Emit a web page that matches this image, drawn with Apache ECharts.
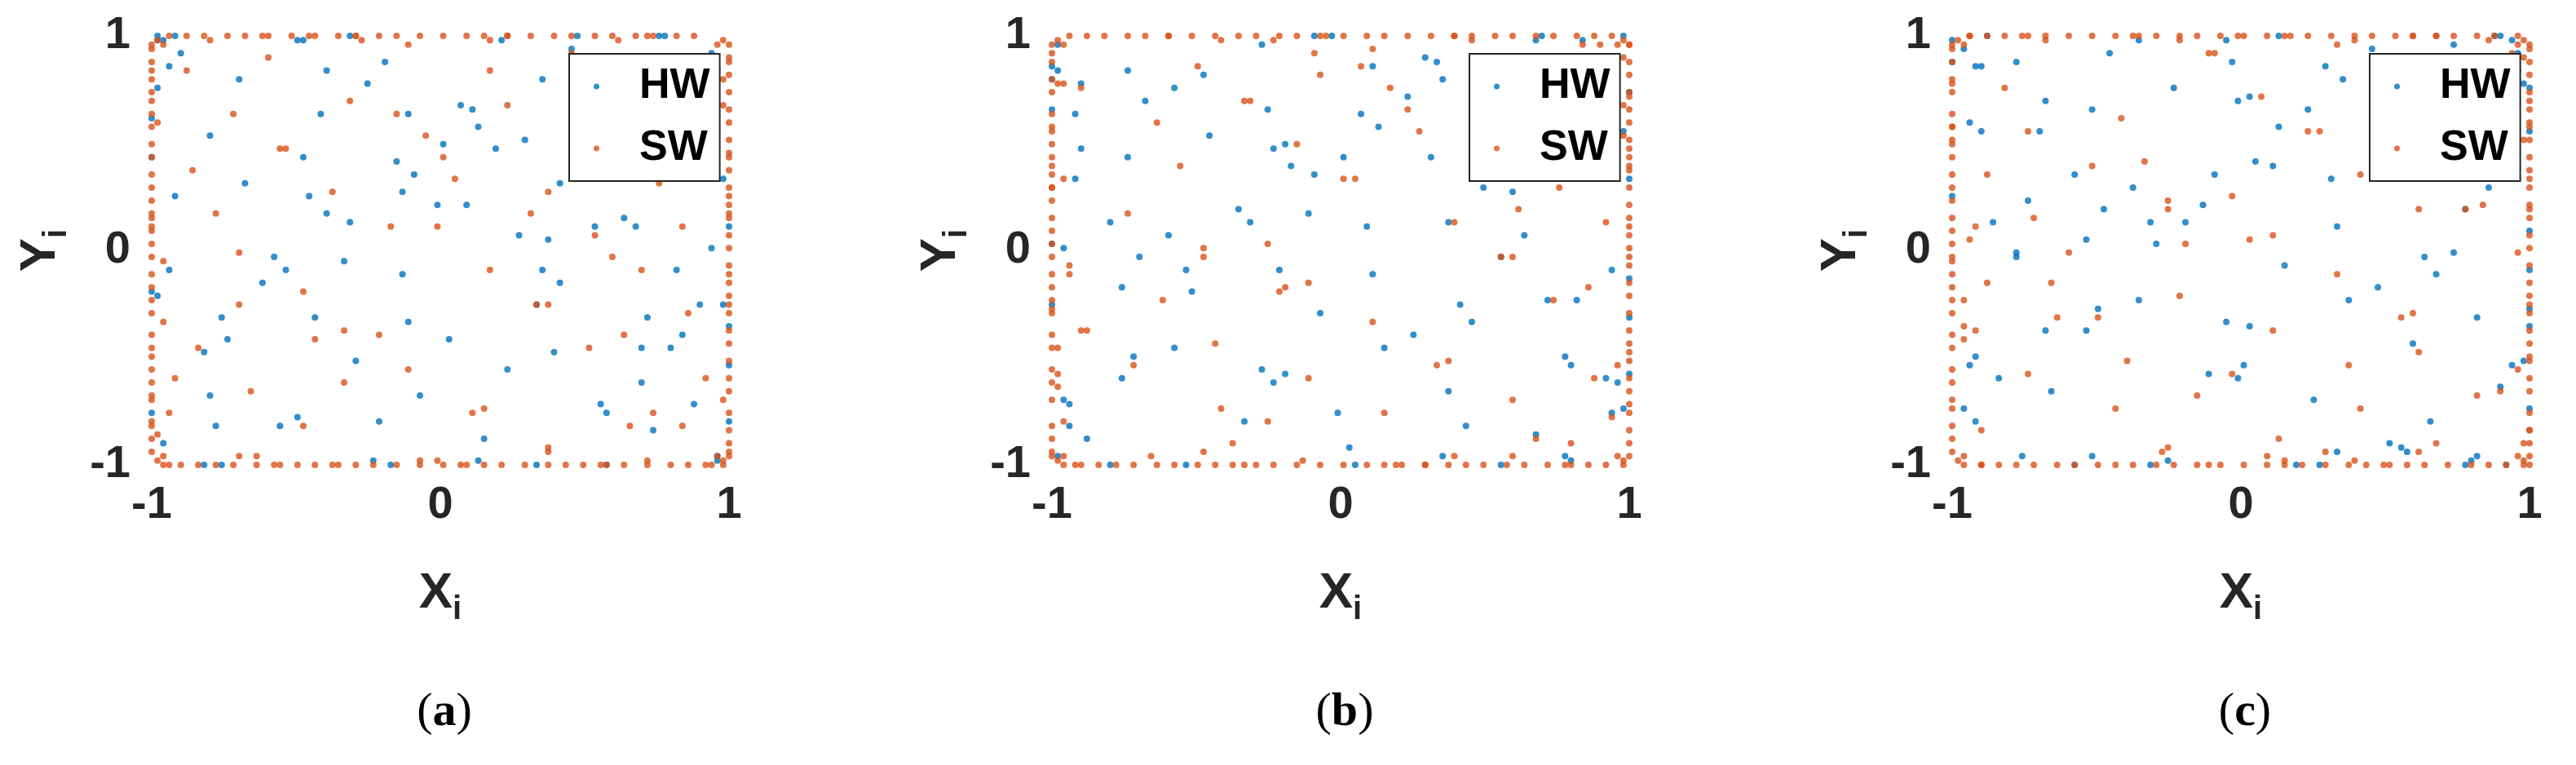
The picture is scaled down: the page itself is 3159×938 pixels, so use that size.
<!DOCTYPE html>
<html><head><meta charset="utf-8">
<script src="https://cdn.jsdelivr.net/npm/echarts@6/dist/echarts.min.js"></script>
<style>html,body{margin:0;padding:0;background:#fff}#c{width:3159px;height:938px}</style>
</head><body><div id="c"></div>
<script>
// points encoded as "xxyy" groups, 00..99 mapped to -1..1
const hwA = "0012 0345 0187 9923 9866 9701 1200 3499 5601 7800 8899 0298 2345 4567 6789 1234 5678 3456 7812 9045 1589 2671 4433 6122 8355 3910 5074 7296 2148 4960 6637 8419 1076 3058 5582 7714 9130 0595 2209 4481 6353 8927 1665 3347 5129 7791 9573 0462 2834 4616 6098 8270 1942 3524 5706 7388 9650 0139 2511 4093 6475 8157 1329 3801 5383 7065 9437 0926 2698 4270 6852 8534 1016 3788 5460 7042 9314 0080 2762 4344 6926 8608 0199 2981 4363 6745 8427 1109 3091 5973 7655 9837 0040 0071 9955 9910 9932 0198 0499 2598 7399 0900 4100 6600 8799 0205 9702 0392 9695";
const swA = "0107 0233 0058 0179 0091 9815 9944 9972 9889 9958 1098 2799 4497 6199 8098 1502 3200 4901 6803 8501 0420 2273 4155 6837 8612 1549 3331 5713 7295 9077 0768 2640 4422 6804 8386 1158 3930 5512 7894 9476 0247 2829 4601 6183 8765 1537 3319 5891 7473 9155 0827 2609 4281 6863 8445 1717 3599 5071 7653 9235 0312 2094 4776 6558 8130 1802 3484 5266 7948 9520 0691 2373 4955 6637 8209 1481 3163 5845 7527 9109 0010 0025 0055 0084 0096 9903 9937 9962 9994 0300 2200 5300 7700 9600 1999 3698 5898 8599 0016 9883";
const hwB = "0215 0466 0089 9934 9877 9612 2300 4599 6702 8901 9198 0197 3456 5678 7890 2345 6789 4567 8923 1056 2690 3782 5544 7233 9466 4021 6185 8307 3259 5071 7748 9520 2187 4169 6693 8825 1241 0606 3310 5592 7464 9038 2776 4458 6230 8802 1684 0573 3945 5727 7109 9381 2053 4635 6817 8499 1371 0250 3622 5104 7586 9268 2440 4912 6494 8176 1548 0037 3819 5381 7963 9645 2127 4899 6571 8153 1425 0191 3873 5455 7037 9719 1391 0092 4074 6856 8538 1220 0102 9986 0051 0082 9966 9921 9943 0309 0588 3697 8398 1000 5200 7700 9899 0314 9813 0481 9784";
const swB = "0118 0344 0069 0288 0002 9926 9955 9883 9790 9969 2099 3898 5596 7298 9197 2603 4301 5900 7902 9611 0531 3384 5266 7948 9723 2650 4442 6824 8306 0188 1879 3751 5533 7915 9497 2269 4041 6623 8905 0587 1358 3940 5712 7294 9876 2648 4420 6902 8584 0266 1938 3710 5392 7974 9556 2828 4690 6182 8764 0346 1423 3105 5887 7669 9241 2913 4595 6377 8059 0631 1702 3484 5066 7748 9320 2592 4274 6956 8638 0210 0121 0036 0064 0095 0077 9914 9948 9973 9985 0400 3300 6400 8800 9997 2998 4799 6999 9699 0127 9894";
const hwC = "0323 0577 0098 9945 9888 9623 3400 5699 7803 9002 9399 0296 4567 6789 8901 3456 7890 5678 9034 2167 3701 4893 6655 8344 1577 5132 7296 9418 4360 6182 8859 1631 3298 5270 7704 9936 2352 1717 4421 6603 8575 1149 3887 5569 7341 9913 2795 1684 4056 6838 8210 0492 3164 5746 7928 9500 2482 1361 4733 6215 8697 0379 3551 5023 7505 9287 2659 1148 4920 6492 8074 0756 3238 5900 7682 9264 2536 1202 4984 6566 8148 0820 2402 1193 5185 7967 8649 2331 0213 9987 0062 0093 9977 9932 9954 0410 0699 4798 9499 2100 6300 8800 9698 0425 9824 0592 9795";
const swC = "0229 0455 0078 0399 0013 9937 9966 9894 9791 9978 3199 4999 6697 8399 9298 3704 5402 6901 8003 9722 0642 4495 6377 8059 1834 3761 5553 7935 9417 1299 2980 4862 6644 8026 0508 3370 5152 7734 9016 1698 2469 4051 6823 8305 0987 3759 5531 7013 9695 1377 2049 4821 6403 8085 0667 3939 5701 7293 9875 1457 2534 4216 6998 8770 0352 3024 5606 7488 9160 1742 2813 4595 6177 8859 0431 3603 5385 7067 9749 1321 0232 0047 0075 0096 0088 9925 9959 9984 9996 0500 4400 7500 9900 9908 3998 5899 7999 9799 0238 9805";
// dense orange bands along the borders
const edgeSW = "0003 0006 0009 0015 0019 0022 0027 0030 0035 0038 0041 0044 0048 0051 0054 0057 0061 0064 0067 0071 0074 0078 0081 0086 0089 0093 0097 9902 9905 9908 9912 9917 9920 9924 9928 9931 9935 9939 9942 9946 9950 9953 9957 9960 9964 9968 9971 9975 9979 9982 9986 9990 9993 9997 0399 0699 0999 1399 1699 2099 2499 2899 3299 3599 3999 4299 4699 5099 5499 5799 6199 6599 6999 7299 7699 7999 8399 8699 9099 9399 0200 0500 0800 1100 1400 1800 2100 2500 2800 3100 3500 3800 4200 4600 5000 5400 5700 6000 6400 6800 7100 7400 7800 8100 8500 8900 9200 9500 9800 0101 0198 9801 9898 0202 0297 9702 9797";
const captions = ["(a)", "(b)", "(c)"];
const tickValues = [-1, 0, 1];

function decode(s){return s.trim().split(/\s+/).map(g=>[-1+2*(+g.slice(0,2))/99, -1+2*(+g.slice(2,4))/99]);}
const panels=[[hwA,swA],[hwB,swB],[hwC,swC]];
const lefts=[186,1290,2394], W=708;
const BLUE='#0072BD', RED='#D95319';
const font='"Liberation Sans", Arial, sans-serif';
const opt={animation:false,backgroundColor:'#fff',grid:[],xAxis:[],yAxis:[],series:[],legend:[],title:[]};
panels.forEach((p,i)=>{
  opt.grid.push({left:lefts[i],top:44,width:W,height:526});
  const ax=(name,isY)=>({gridIndex:i,type:'value',min:-1,max:1,interval:1,
    axisLine:{show:false},axisTick:{show:false},splitLine:{show:false},
    axisLabel:{fontFamily:font,fontWeight:'bold',fontSize:56,color:'#262626',margin:isY?26:22},
    name:name,nameLocation:'middle',nameGap:isY?96:118,nameRotate:isY?90:0,
    nameTextStyle:{fontFamily:font,fontWeight:'bold',fontSize:62,color:'#262626',
      rich:{s:{fontFamily:font,fontWeight:'bold',fontSize:40,color:'#262626',padding:[40,0,0,0]}}}});
  opt.xAxis.push(ax('X{s|i}',false));
  opt.yAxis.push(ax('Y{s|i}',true));
  opt.series.push({name:'HW',type:'scatter',xAxisIndex:i,yAxisIndex:i,symbolSize:8,itemStyle:{color:BLUE},data:decode(p[0])});
  opt.series.push({name:'SW',type:'scatter',xAxisIndex:i,yAxisIndex:i,symbolSize:8,itemStyle:{color:RED},data:decode(p[1]).concat(decode(edgeSW))});
  opt.legend.push({data:[{name:'HW',itemStyle:{color:BLUE}},{name:'SW',itemStyle:{color:RED}}],orient:'vertical',
    left:lefts[i]+W-196,top:66,backgroundColor:'#fff',borderColor:'#262626',borderWidth:2,
    padding:[14,12,14,30],itemGap:24,icon:'circle',itemWidth:7,itemHeight:7,
    textStyle:{fontFamily:font,fontWeight:'bold',fontSize:52,color:'#000',padding:[0,0,0,44]}});
  opt.title.push({text:'({b|'+captions[i].slice(1,-1)+'})',left:lefts[i]+W/2,top:840,textAlign:'center',
    textStyle:{fontFamily:'"Liberation Serif", serif',fontWeight:'normal',fontSize:58,color:'#000',
      rich:{b:{fontFamily:'"Liberation Serif", serif',fontWeight:'bold',fontSize:58,color:'#000'}}}});
});
const ch=echarts.init(document.getElementById('c'),null,{renderer:'canvas'});
ch.setOption(opt);
</script></body></html>
